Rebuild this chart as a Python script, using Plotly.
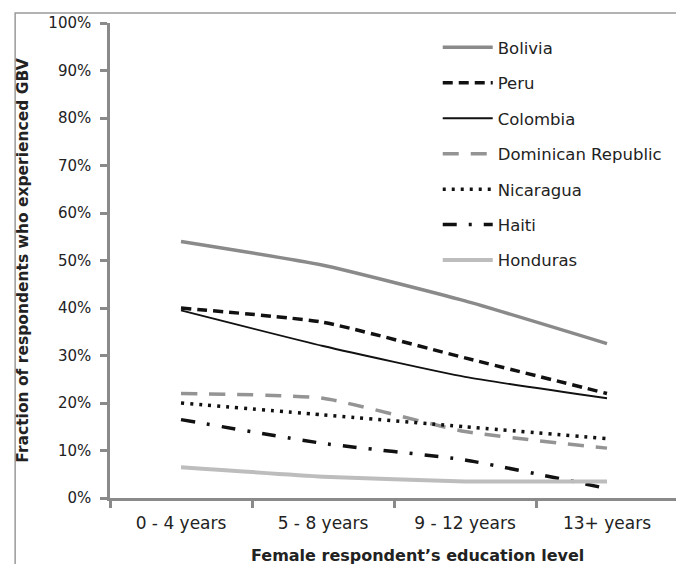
import plotly.graph_objects as go

categories = ["0 - 4 years", "5 - 8 years", "9 - 12 years", "13+ years"]
bolivia = [0.54, 0.49, 0.415, 0.325]
peru = [0.40, 0.37, 0.295, 0.22]
colombia = [0.395, 0.32, 0.255, 0.21]
dominican = [0.22, 0.21, 0.14, 0.105]
nicaragua = [0.20, 0.175, 0.15, 0.125]
haiti = [0.165, 0.115, 0.08, 0.02]
honduras = [0.065, 0.045, 0.035, 0.035]
y_ticks = [i / 10 for i in range(11)]
y_tick_labels = [f"{i*10}%" for i in range(11)]
x_title = "Female respondent’s education level"
y_title = "Fraction of respondents who experienced GBV"

series = [
    ("Bolivia", bolivia, dict(color="#8a8a8a", width=3.5, dash="solid")),
    ("Peru", peru, dict(color="#111111", width=3.5, dash="10px,6px")),
    ("Colombia", colombia, dict(color="#111111", width=1.8, dash="solid")),
    ("Dominican Republic", dominican, dict(color="#949494", width=3.5, dash="16px,12px")),
    ("Nicaragua", nicaragua, dict(color="#111111", width=3.5, dash="3px,6px")),
    ("Haiti", haiti, dict(color="#111111", width=3.5, dash="14px,12px,3px,12px")),
    ("Honduras", honduras, dict(color="#bdbdbd", width=4, dash="solid")),
]

fig = go.Figure()
for i, (name, vals, line) in enumerate(series):
    fig.add_trace(go.Scatter(
        x=categories, y=vals, name=name, mode="lines",
        line=dict(shape="spline", smoothing=0.5, **line),
        legendgroup=f"g{i}",
    ))

font = "'DejaVu Sans', sans-serif"
fig.update_layout(
    width=684, height=564,
    margin=dict(l=102, r=14, t=15, b=74, autoexpand=False),
    paper_bgcolor="white", plot_bgcolor="white",
    font=dict(family=font, size=16, color="#222"),
    showlegend=True,
    legend=dict(x=0.577, y=0.985, xanchor="left", yanchor="top",
                bgcolor="rgba(0,0,0,0)", font=dict(size=16.5, color="#222"),
                itemwidth=50, tracegroupgap=11),
    xaxis=dict(
        type="category", range=[-0.5, 3.5], automargin=False,
        showline=True, linecolor="#8a8a8a", linewidth=2.5,
        ticks="outside", tickson="boundaries", ticklen=7, tickcolor="#8a8a8a", tickwidth=2.5,
        showgrid=False, zeroline=False,
        tickfont=dict(size=17, color="#222"),
        ticklabelstandoff=8,
    ),
    yaxis=dict(
        range=[0, 1], tickvals=y_ticks, ticktext=y_tick_labels, automargin=False,
        showline=True, linecolor="#8a8a8a", linewidth=2.5,
        ticks="outside", ticklen=7, tickcolor="#8a8a8a", tickwidth=2.5,
        showgrid=False, zeroline=False,
        tickfont=dict(size=15, color="#222"),
        ticklabelstandoff=6,
        title=dict(text=f"<b>{y_title}</b>", font=dict(size=15.5), standoff=16),
    ),
)
fig.add_annotation(text=f"<b>{x_title}</b>", xref="paper", yref="paper",
                   x=0.542, y=-0.145, xanchor="center", yanchor="bottom",
                   showarrow=False, font=dict(size=16, family=font, color="#222"))
fig.add_shape(type="rect", xref="paper", yref="paper", x0=-0.167, x1=1.5, y0=-0.5, y1=1.021,
              line=dict(color="#9a9a9a", width=1.5), layer="below")

fig.write_html("out.html")
